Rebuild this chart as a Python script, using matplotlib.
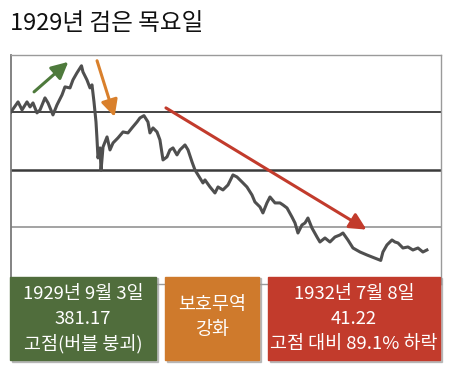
import matplotlib.pyplot as plt
from matplotlib.patches import Rectangle

plt.rcParams['font.family'] = ['Noto Sans CJK KR', 'DejaVu Sans']

# 다우존스 지수 (1929~1932), 그림에서 읽은 값
years = [1929.000, 1929.067, 1929.105, 1929.152, 1929.181, 1929.209, 1929.247, 1929.276,
         1929.323, 1929.352, 1929.399, 1929.437, 1929.485, 1929.513, 1929.561, 1929.589,
         1929.627, 1929.670, 1929.684, 1929.722, 1929.751, 1929.770, 1929.789, 1929.808,
         1929.817, 1929.827, 1929.846, 1929.856, 1929.875, 1929.913, 1929.941, 1929.970,
         1930.017, 1930.065, 1930.112, 1930.150, 1930.198, 1930.226, 1930.264, 1930.302,
         1930.321, 1930.350, 1930.388, 1930.416, 1930.445, 1930.483, 1930.511, 1930.540,
         1930.578, 1930.606, 1930.654, 1930.683, 1930.721, 1930.749, 1930.778, 1930.825,
         1930.844, 1930.892, 1930.939, 1930.968, 1931.015, 1931.063, 1931.110, 1931.148,
         1931.196, 1931.243, 1931.291, 1931.319, 1931.367, 1931.395, 1931.433, 1931.462,
         1931.510, 1931.557, 1931.586, 1931.624, 1931.671, 1931.700, 1931.728, 1931.766,
         1931.795, 1931.823, 1931.861, 1931.909, 1931.937, 1931.985, 1932.032, 1932.080,
         1932.127, 1932.156, 1932.203, 1932.251, 1932.318, 1932.384, 1932.432, 1932.515,
         1932.536, 1932.574, 1932.622, 1932.650, 1932.679, 1932.726, 1932.774, 1932.821,
         1932.869, 1932.916, 1932.954]
dow = [300.6, 318.1, 304.1, 318.1, 309.3, 316.3, 298.9, 304.1,
       325.1, 316.3, 295.4, 312.8, 330.3, 344.3, 342.5, 356.5,
       368.8, 381.2, 370.5, 356.5, 342.5, 347.8, 318.1, 283.1,
       255.2, 220.2, 237.7, 198.7, 239.4, 256.9, 234.2, 246.4,
       255.2, 265.6, 263.9, 272.6, 283.1, 290.1, 294.1, 283.1,
       263.9, 272.6, 265.6, 251.7, 216.7, 222.0, 234.2, 237.7,
       225.5, 234.2, 242.9, 234.2, 213.2, 199.2, 190.5, 176.5,
       181.8, 169.5, 159.0, 169.5, 164.3, 173.0, 190.5, 187.0,
       178.3, 169.5, 155.5, 143.3, 134.6, 124.1, 141.6, 152.0,
       141.6, 141.6, 138.1, 132.8, 117.1, 106.6, 89.1, 103.1,
       106.6, 115.3, 97.9, 82.1, 73.4, 80.4, 73.4, 82.1,
       85.6, 89.1, 76.9, 62.9, 55.9, 50.7, 47.2, 41.2,
       55.9, 68.2, 76.9, 73.4, 71.7, 62.9, 64.7, 59.4,
       62.9, 55.9, 59.4]

gridlines = [100, 200, 300]
grid_colors = ['#8a8a8a', '#3a3a3a', '#111111']
grid_widths = [1.1, 1.8, 1.1]

# 화살표 (시작, 끝)
arrows = [((1929.219, 335.6), (1929.545, 388.0), '#4e7a3c'),
          ((1929.818, 390.0), (1929.985, 292.0), '#d9802c'),
          ((1930.473, 307.6), (1932.380, 95.0), '#c23b2c')]

box_texts = [['1929년 9월 3일', '381.17', '고점(버블 붕괴)'],
             ['보호무역', '강화'],
             ['1932년 7월 8일', '41.22', '고점 대비 89.1% 하락']]
box_colors = ['#506d3c', '#cf7a2c', '#c23b2c']

W, H = 449, 368
fig = plt.figure(figsize=(W / 100, H / 100), dpi=100)
ax = fig.add_axes([11 / W, 1 - 284 / H, 430 / W, 229 / H])

for g, c, lw in zip(gridlines, grid_colors, grid_widths):
    ax.axhline(g, color=c, lw=lw, zorder=1)

ax.plot(years, dow, color='#4f4f4f', lw=2.2, solid_joinstyle='round', zorder=3)

for (x0, y0), (x1, y1), c in arrows:
    ax.annotate('', xy=(x1, y1), xytext=(x0, y0),
                arrowprops=dict(arrowstyle='-|>', color=c, lw=2.2,
                                mutation_scale=25, shrinkA=0, shrinkB=0),
                zorder=4)

ax.set_xlim(1929.0, 1933.088)
ax.set_ylim(0, 400)
ax.set_xticks([])
ax.set_yticks([])
ax.spines['left'].set_color('#7a7a7a')
ax.spines['left'].set_linewidth(1.3)
for s in ['top', 'right', 'bottom']:
    ax.spines[s].set_color('#9a9a9a')
    ax.spines[s].set_linewidth(1.0)

fig.text(10 / W, 1 - 23 / H, '1929년 검은 목요일', fontsize=17, va='center',
         ha='left', color='#111111', fontweight='medium')

# 하단 설명 상자 (픽셀 위치)
boxes = [(10, 156), (165, 259), (268, 440)]
line_y = {3: [294, 319, 344], 2: [305, 330]}
for (bx0, bx1), c, lines in zip(boxes, box_colors, box_texts):
    shadow = Rectangle((bx0 / W + 2 / W, 1 - 362 / H), (bx1 - bx0) / W, 84 / H,
                       transform=fig.transFigure, color='#9a9a9a', alpha=0.6, zorder=5)
    rect = Rectangle((bx0 / W, 1 - 360 / H), (bx1 - bx0) / W, 83 / H,
                     transform=fig.transFigure, color=c, zorder=6)
    fig.patches.extend([shadow, rect])
    for t, yy in zip(lines, line_y[len(lines)]):
        fig.text((bx0 + bx1) / 2 / W, 1 - yy / H, t, color='white', fontsize=13.3,
                 ha='center', va='center', zorder=7, fontweight='medium')

fig.savefig('out.png', dpi=100)
